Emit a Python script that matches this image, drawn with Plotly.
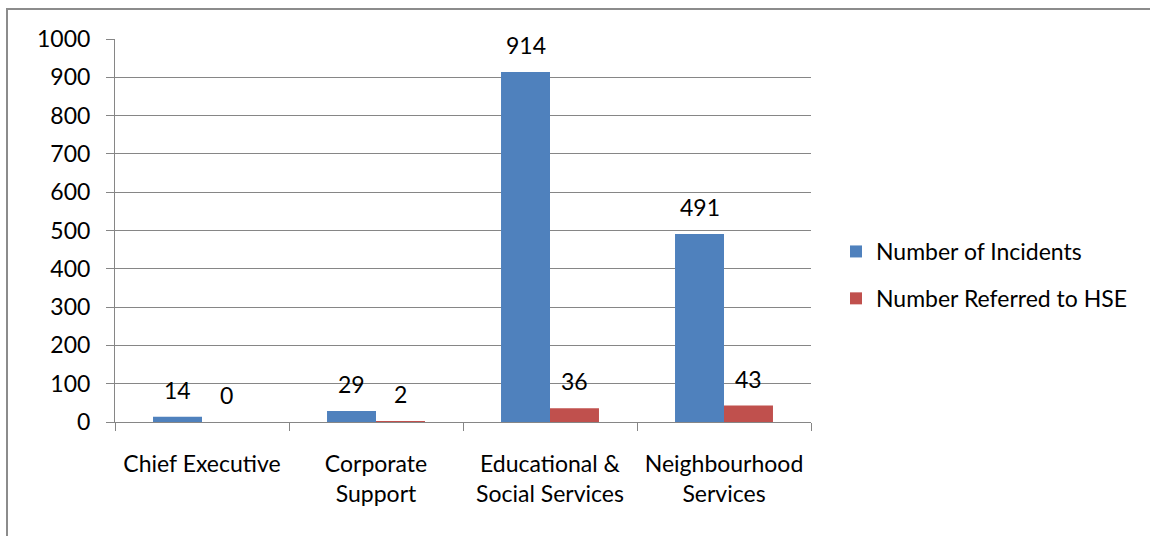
import plotly.graph_objects as go

# Incident counts per directorate
categories = [
    "Chief Executive",
    "Corporate<br>Support",
    "Educational &<br>Social Services",
    "Neighbourhood<br>Services",
]
incidents = [14, 29, 914, 491]
referred_hse = [0, 2, 36, 43]
series_names = ["Number of Incidents", "Number Referred to HSE"]
series_colors = ["#4F81BD", "#C0504D"]
y_tick_values = [0, 100, 200, 300, 400, 500, 600, 700, 800, 900, 1000]

W, H = 1150, 536
ML, MR, MT, MB = 115, 339, 39, 114
plot_w = W - ML - MR
plot_h = H - MT - MB

FONT = "Lato"
FS = 23
GRID = "#868686"

fig = go.Figure()
series_values = [incidents, referred_hse]
for name, vals, col in zip(series_names, series_values, series_colors):
    fig.add_trace(go.Bar(
        x=categories, y=vals, name=name, legendgroup=name,
        marker=dict(color=col, line=dict(width=0)),
    ))

# value labels above each bar
bargap = 0.437
bar_w = plot_w / len(categories) * (1 - bargap) / 2
for i, vals in enumerate(series_values):
    shift = (i - 0.5) * bar_w
    for cat, v in zip(categories, vals):
        fig.add_annotation(
            x=cat, y=v, xref="x", yref="y", text=str(v), showarrow=False,
            xshift=shift, yshift=27, yanchor="middle", xanchor="center",
            font=dict(family=FONT, size=FS, color="#000000"),
        )

# chart frame
fig.add_shape(
    type="rect", xref="paper", yref="paper",
    x0=(7 - ML) / plot_w, x1=1.6,
    y0=-0.5, y1=(H - MB - 9) / plot_h,
    line=dict(color="#8C8C8C", width=2), fillcolor="rgba(0,0,0,0)", layer="below",
)

fig.update_layout(
    width=W, height=H,
    margin=dict(l=ML, r=MR, t=MT, b=MB, pad=0, autoexpand=False),
    paper_bgcolor="white", plot_bgcolor="white",
    barmode="group", bargap=bargap, bargroupgap=0,
    font=dict(family=FONT, size=FS, color="#000000"),
    showlegend=True,
    legend=dict(
        x=(836 - ML) / plot_w, xanchor="left",
        y=(H - MB - 230) / plot_h, yanchor="top",
        traceorder="grouped", tracegroupgap=14,
        font=dict(family=FONT, size=FS, color="#000000"),
        bgcolor="rgba(0,0,0,0)", borderwidth=0,
    ),
    xaxis=dict(
        type="category", showgrid=False, zeroline=False,
        showline=True, linecolor=GRID, linewidth=1,
        ticks="outside", tickson="boundaries", ticklen=8, tickcolor=GRID,
        tickwidth=1, ticklabelstandoff=21, tickangle=0, automargin=False,
        tickfont=dict(family=FONT, size=FS, color="#000000"),
    ),
    yaxis=dict(
        range=[0, 1000], tickvals=y_tick_values,
        showgrid=True, gridcolor=GRID, gridwidth=1, zeroline=False,
        showline=True, linecolor=GRID, linewidth=1,
        ticks="outside", ticklen=8, tickcolor=GRID, tickwidth=1,
        ticklabelstandoff=11, automargin=False,
        tickfont=dict(family=FONT, size=FS, color="#000000"),
    ),
)

fig.write_html("out.html")
